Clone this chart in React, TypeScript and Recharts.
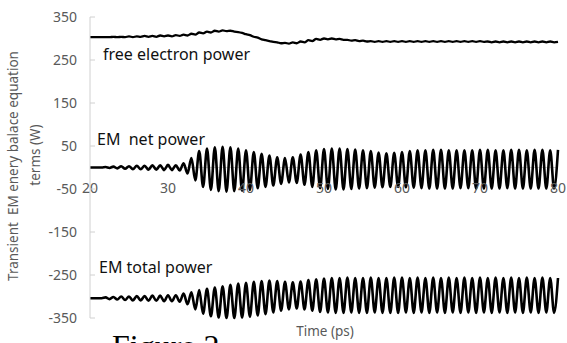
import { LineChart, Line, XAxis, YAxis, CartesianGrid } from "recharts";

// sample times (ps), one peak and one trough per ps
const time = [
  20, 20.5, 21, 21.5, 22, 22.5, 23, 23.5, 24, 24.5,
  25, 25.5, 26, 26.5, 27, 27.5, 28, 28.5, 29, 29.5,
  30, 30.5, 31, 31.5, 32, 32.5, 33, 33.5, 34, 34.5,
  35, 35.5, 36, 36.5, 37, 37.5, 38, 38.5, 39, 39.5,
  40, 40.5, 41, 41.5, 42, 42.5, 43, 43.5, 44, 44.5,
  45, 45.5, 46, 46.5, 47, 47.5, 48, 48.5, 49, 49.5,
  50, 50.5, 51, 51.5, 52, 52.5, 53, 53.5, 54, 54.5,
  55, 55.5, 56, 56.5, 57, 57.5, 58, 58.5, 59, 59.5,
  60, 60.5, 61, 61.5, 62, 62.5, 63, 63.5, 64, 64.5,
  65, 65.5, 66, 66.5, 67, 67.5, 68, 68.5, 69, 69.5,
  70, 70.5, 71, 71.5, 72, 72.5, 73, 73.5, 74, 74.5,
  75, 75.5, 76, 76.5, 77, 77.5, 78, 78.5, 79, 79.5,
  80,
];

const freeElectronPower = [
  303, 303, 303, 303, 303, 303, 304, 303, 304, 303,
  305, 303, 305, 304, 306, 304, 306, 304, 307, 305,
  307, 305, 308, 306, 309, 307, 311, 309, 314, 312,
  316, 314, 318, 316, 319, 317, 318, 316, 315, 313,
  310, 308, 304, 302, 298, 296, 294, 292, 291, 289,
  290, 288, 291, 289, 293, 291, 296, 294, 299, 297,
  300, 298, 300, 298, 299, 297, 297, 295, 296, 294,
  295, 293, 294, 292, 294, 292, 294, 292, 294, 292,
  294, 292, 294, 292, 294, 292, 294, 292, 294, 292,
  294, 292, 294, 292, 294, 292, 294, 292, 294, 292,
  294, 292, 293, 291, 293, 291, 293, 291, 293, 291,
  293, 291, 293, 291, 293, 291, 293, 291, 293, 291,
  292,
];

const emNetPower = [
  0, 0, 0, 0, 1, -1, 2, -2, 3, -3,
  3, -4, 4, -4, 4, -5, 5, -5, 5, -6,
  6, -6, 5, -7, 10, -14, 22, -30, 38, -45,
  44, -52, 47, -55, 48, -56, 47, -55, 44, -54,
  40, -52, 36, -48, 32, -45, 28, -42, 24, -38,
  22, -35, 24, -36, 30, -40, 36, -45, 40, -48,
  43, -50, 44, -51, 44, -51, 43, -50, 42, -49,
  40, -48, 38, -47, 35, -46, 33, -45, 34, -45,
  36, -46, 38, -47, 40, -48, 40, -49, 41, -49,
  41, -49, 40, -49, 40, -48, 40, -48, 40, -49,
  41, -49, 41, -49, 40, -49, 40, -48, 41, -49,
  41, -49, 40, -49, 41, -49, 41, -49, 40, -49,
  41,
];

const emTotalPower = [
  -304, -304, -304, -304, -302, -306, -301, -307, -300, -308,
  -300, -309, -299, -309, -299, -310, -298, -310, -298, -311,
  -297, -311, -297, -312, -293, -318, -290, -330, -285, -340,
  -282, -346, -279, -349, -276, -350, -273, -350, -270, -349,
  -268, -347, -266, -344, -264, -341, -263, -337, -264, -333,
  -266, -330, -267, -328, -265, -330, -262, -333, -260, -336,
  -258, -337, -257, -338, -257, -338, -256, -337, -257, -338,
  -257, -338, -256, -337, -257, -338, -257, -338, -256, -338,
  -256, -337, -257, -338, -256, -337, -257, -338, -256, -337,
  -257, -338, -256, -337, -257, -338, -256, -337, -257, -338,
  -256, -337, -257, -338, -256, -337, -257, -338, -256, -337,
  -257, -338, -256, -337, -257, -338, -256, -337, -257, -338,
  -257,
];

const xTicks = [20, 30, 40, 50, 60, 70, 80];
const yTicks = [-350, -250, -150, -50, 50, 150, 250, 350];

const data = time.map((t, i) => ({
  t,
  free: freeElectronPower[i],
  net: emNetPower[i],
  total: emTotalPower[i],
}));

const W = 567;
const H = 343;
const MARGIN = { top: 17, right: 9, left: 0, bottom: 0 };
const X_AXIS_H = 25;
const PLOT_H = H - MARGIN.top - MARGIN.bottom - X_AXIS_H;
const ZERO_Y = MARGIN.top + PLOT_H * (350 / 700);

const AXIS_GRAY = "#d0d0d0";
const TEXT_GRAY = "#595959";
const FONT = "'Noto Sans', 'Open Sans', sans-serif";

const YTick = (props: any) => {
  const { x, y, payload } = props;
  return (
    <g>
      <line x1={x} x2={x + 5} y1={y} y2={y} stroke={AXIS_GRAY} />
      <text x={x - 13} y={y} dy="0.35em" textAnchor="end" fill={TEXT_GRAY} fontSize={14} fontFamily={FONT}>
        {payload.value}
      </text>
    </g>
  );
};

const XTick = (props: any) => {
  const { x, payload } = props;
  return (
    <text x={x} y={ZERO_Y + 21} dy="0.35em" textAnchor="middle" fill={TEXT_GRAY} fontSize={14} fontFamily={FONT}>
      {payload.value}
    </text>
  );
};

export default function App() {
  return (
    <div style={{ position: "absolute", left: 0, top: 0, width: W, height: H, overflow: "hidden", background: "#fff" }}>
      <LineChart width={W} height={H} data={data} margin={MARGIN}>
        <CartesianGrid vertical={false} horizontalValues={[0]} stroke={AXIS_GRAY} />
        <XAxis
          dataKey="t"
          type="number"
          domain={[20, 80]}
          ticks={xTicks}
          height={X_AXIS_H}
          axisLine={false}
          tickLine={false}
          tick={XTick}
          interval={0}
        />
        <YAxis
          type="number"
          domain={[-350, 350]}
          ticks={yTicks}
          width={90}
          axisLine={{ stroke: AXIS_GRAY }}
          tickLine={false}
          tickSize={0}
          tickMargin={0}
          tick={YTick}
          interval={0}
        />
        <Line dataKey="free" type="monotone" stroke="#000" strokeWidth={2.3} dot={false} isAnimationActive={false} />
        <Line dataKey="net" type="monotone" stroke="#000" strokeWidth={2.6} dot={false} isAnimationActive={false} />
        <Line dataKey="total" type="monotone" stroke="#000" strokeWidth={2.6} dot={false} isAnimationActive={false} />
      </LineChart>
      <svg width={W} height={H} style={{ position: "absolute", left: 0, top: 0, pointerEvents: "none" }}>
        <g fontFamily={FONT} fill="#111" fontSize={16}>
          <text x={103} y={60}>free electron power</text>
          <text x={97} y={145} style={{ whiteSpace: "pre" }}>EM  net power</text>
          <text x={99} y={273}>EM total power</text>
        </g>
        <g fontFamily={FONT} fill={TEXT_GRAY} fontSize={13.5} textAnchor="middle">
          <text transform="translate(18,166) rotate(-90)" style={{ whiteSpace: "pre" }}>
            Transient  EM enery balace equation
          </text>
          <text transform="translate(40,155) rotate(-90)">terms (W)</text>
          <text x={325} y={336}>Time (ps)</text>
        </g>
        <text x={112} y={357} fontFamily="'Liberation Serif', 'DejaVu Serif', serif" fontSize={32} fill="#000">
          Figure 2
        </text>
      </svg>
    </div>
  );
}
